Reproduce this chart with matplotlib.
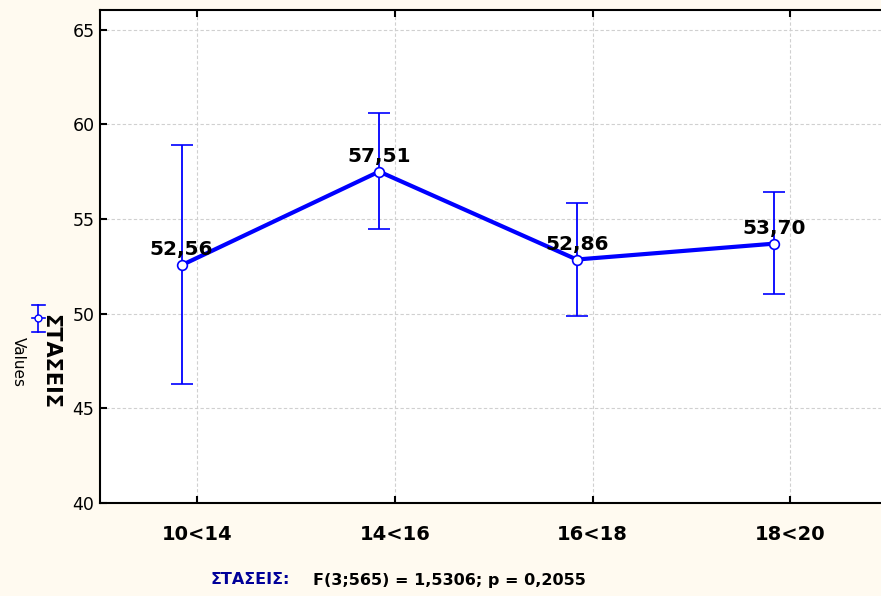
import matplotlib
matplotlib.use("Agg")
import matplotlib.pyplot as plt
from matplotlib.lines import Line2D

categories = ["10<14", "14<16", "16<18", "18<20"]
means = [52.56, 57.51, 52.86, 53.70]
err_low = [6.28, 3.03, 2.98, 2.67]
err_high = [6.33, 3.09, 3.01, 2.71]
value_labels = ["52,56", "57,51", "52,86", "53,70"]
y_ticks = [40, 45, 50, 55, 60, 65]

BLUE = "#0000ff"
BG = "#fffaf0"

fig = plt.figure(figsize=(8.81, 5.96), dpi=100, facecolor=BG)
ax = fig.add_axes([100/881, 1 - 502.8/596, 1 - 100/881, (502.8 - 10)/596])
ax.set_facecolor("white")

offset = -0.08
xs = [i + offset for i in range(len(categories))]
ax.errorbar(xs, means, yerr=[err_low, err_high], color=BLUE, lw=3, elinewidth=1.3,
            capsize=8, capthick=1.3, marker="o", ms=7, mfc="white", mec=BLUE, mew=1.2,
            zorder=3)
for x, m, lab in zip(xs, means, value_labels):
    ax.annotate(lab, (x, m), xytext=(0, 7), textcoords="offset points",
                ha="center", va="baseline", fontsize=14.5, fontweight="bold",
                color="black", zorder=5)

ax.set_xlim(-0.493, 3.46)
ax.set_ylim(40, 66.05)
ax.set_xticks(range(len(categories)))
ax.set_xticklabels(categories, fontsize=14, fontweight="bold")
ax.set_yticks(y_ticks)
ax.tick_params(axis="y", labelsize=12.5, direction="in", length=5, width=1.5, pad=4)
ax.tick_params(axis="x", direction="in", length=5, width=1.5, pad=16, top=True)
ax.grid(True, color="#d0d0d0", linestyle=(0, (3, 2)), lw=0.8, zorder=0)
ax.set_axisbelow(True)
for s in ["left", "top", "bottom"]:
    ax.spines[s].set_linewidth(1.5)
ax.spines["right"].set_visible(False)

# rotated y labels
fig.text(50/881, 1 - 361/596, "ΣΤΑΣΕΙΣ", rotation=-90, ha="center", va="center",
         fontsize=15, fontweight="bold")
fig.text(18/881, 1 - 362/596, "Values", rotation=-90, ha="center", va="center",
         fontsize=11)

# legend-like key icon
def fx(px):
    return px / 881
def fy(py):
    return 1 - py / 596
fig.add_artist(Line2D([fx(38), fx(38)], [fy(305), fy(332)], color=BLUE, lw=1.2))
for py in (305, 332):
    fig.add_artist(Line2D([fx(32), fx(45)], [fy(py), fy(py)], color=BLUE, lw=1.2))
fig.add_artist(Line2D([fx(32), fx(45)], [fy(318), fy(318)], color=BLUE, lw=1.2))
fig.add_artist(Line2D([fx(38)], [fy(318)], marker="o", ms=5, mfc="white", mec=BLUE,
                      mew=1, lw=0))

# bottom statistics text
fig.text(210/881, 1 - 580/596, "ΣΤΑΣΕΙΣ:", ha="left", va="center", fontsize=11.5,
         fontweight="bold", color="#000099")
fig.text(313/881, 1 - 580/596, "F(3;565) = 1,5306; p = 0,2055", ha="left",
         va="center", fontsize=11.5, fontweight="bold", color="black")

fig.savefig("out.png", dpi=100, facecolor=BG)
